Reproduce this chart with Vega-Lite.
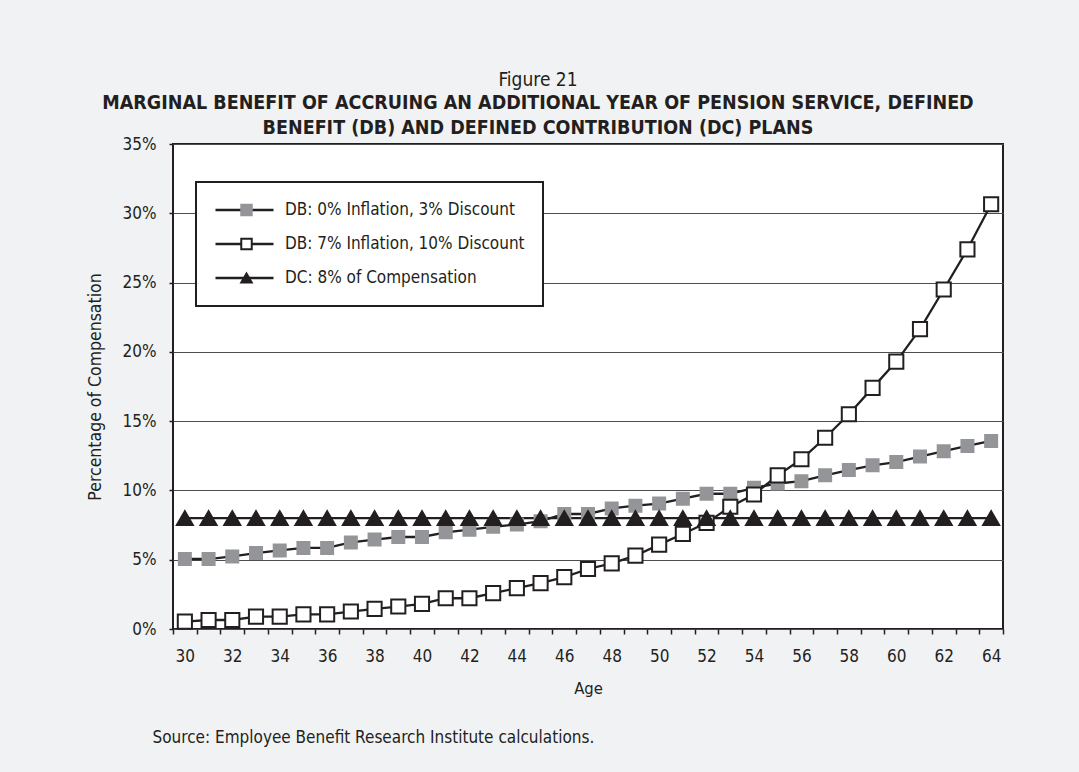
{
  "$schema": "https://vega.github.io/schema/vega-lite/v6.json",
  "width": 830,
  "height": 485,
  "autosize": {"type": "none"},
  "padding": {"left": 173, "top": 144, "right": 76, "bottom": 143},
  "background": "#f1f2f4",
  "config": {
    "font": "Liberation Sans Narrow, DejaVu Sans Condensed, Liberation Sans, sans-serif",
    "view": {"fill": "white", "stroke": "#231f20", "strokeWidth": 2},
    "legend": {"strokeWidth": 2}
  },
  "title": {
    "text": "Figure 21",
    "subtitle": ["MARGINAL BENEFIT OF ACCRUING AN ADDITIONAL YEAR OF PENSION SERVICE, DEFINED", "BENEFIT (DB) AND DEFINED CONTRIBUTION (DC) PLANS"],
    "anchor": "middle",
    "dx": -50,
    "fontSize": 19,
    "fontWeight": "normal",
    "color": "#231f20",
    "subtitleFontSize": 19.5,
    "subtitleFontWeight": "bold",
    "subtitleColor": "#231f20",
    "subtitleLineHeight": 25,
    "subtitlePadding": 4,
    "offset": -2
  },
  "data": {
    "values": [
      {"age": 30, "series": "DB: 0% Inflation, 3% Discount", "value": 5.05},
      {"age": 31, "series": "DB: 0% Inflation, 3% Discount", "value": 5.05},
      {"age": 32, "series": "DB: 0% Inflation, 3% Discount", "value": 5.24},
      {"age": 33, "series": "DB: 0% Inflation, 3% Discount", "value": 5.48},
      {"age": 34, "series": "DB: 0% Inflation, 3% Discount", "value": 5.67},
      {"age": 35, "series": "DB: 0% Inflation, 3% Discount", "value": 5.85},
      {"age": 36, "series": "DB: 0% Inflation, 3% Discount", "value": 5.85},
      {"age": 37, "series": "DB: 0% Inflation, 3% Discount", "value": 6.25},
      {"age": 38, "series": "DB: 0% Inflation, 3% Discount", "value": 6.45},
      {"age": 39, "series": "DB: 0% Inflation, 3% Discount", "value": 6.64},
      {"age": 40, "series": "DB: 0% Inflation, 3% Discount", "value": 6.64},
      {"age": 41, "series": "DB: 0% Inflation, 3% Discount", "value": 6.98},
      {"age": 42, "series": "DB: 0% Inflation, 3% Discount", "value": 7.17},
      {"age": 43, "series": "DB: 0% Inflation, 3% Discount", "value": 7.37},
      {"age": 44, "series": "DB: 0% Inflation, 3% Discount", "value": 7.54},
      {"age": 45, "series": "DB: 0% Inflation, 3% Discount", "value": 7.78},
      {"age": 46, "series": "DB: 0% Inflation, 3% Discount", "value": 8.3},
      {"age": 47, "series": "DB: 0% Inflation, 3% Discount", "value": 8.3},
      {"age": 48, "series": "DB: 0% Inflation, 3% Discount", "value": 8.7},
      {"age": 49, "series": "DB: 0% Inflation, 3% Discount", "value": 8.9},
      {"age": 50, "series": "DB: 0% Inflation, 3% Discount", "value": 9.05},
      {"age": 51, "series": "DB: 0% Inflation, 3% Discount", "value": 9.4},
      {"age": 52, "series": "DB: 0% Inflation, 3% Discount", "value": 9.76},
      {"age": 53, "series": "DB: 0% Inflation, 3% Discount", "value": 9.76},
      {"age": 54, "series": "DB: 0% Inflation, 3% Discount", "value": 10.19},
      {"age": 55, "series": "DB: 0% Inflation, 3% Discount", "value": 10.5},
      {"age": 56, "series": "DB: 0% Inflation, 3% Discount", "value": 10.67},
      {"age": 57, "series": "DB: 0% Inflation, 3% Discount", "value": 11.09},
      {"age": 58, "series": "DB: 0% Inflation, 3% Discount", "value": 11.47},
      {"age": 59, "series": "DB: 0% Inflation, 3% Discount", "value": 11.81},
      {"age": 60, "series": "DB: 0% Inflation, 3% Discount", "value": 12.05},
      {"age": 61, "series": "DB: 0% Inflation, 3% Discount", "value": 12.44},
      {"age": 62, "series": "DB: 0% Inflation, 3% Discount", "value": 12.83},
      {"age": 63, "series": "DB: 0% Inflation, 3% Discount", "value": 13.21},
      {"age": 64, "series": "DB: 0% Inflation, 3% Discount", "value": 13.57},
      {"age": 30, "series": "DB: 7% Inflation, 10% Discount", "value": 0.53},
      {"age": 31, "series": "DB: 7% Inflation, 10% Discount", "value": 0.65},
      {"age": 32, "series": "DB: 7% Inflation, 10% Discount", "value": 0.65},
      {"age": 33, "series": "DB: 7% Inflation, 10% Discount", "value": 0.89},
      {"age": 34, "series": "DB: 7% Inflation, 10% Discount", "value": 0.89},
      {"age": 35, "series": "DB: 7% Inflation, 10% Discount", "value": 1.06},
      {"age": 36, "series": "DB: 7% Inflation, 10% Discount", "value": 1.06},
      {"age": 37, "series": "DB: 7% Inflation, 10% Discount", "value": 1.26},
      {"age": 38, "series": "DB: 7% Inflation, 10% Discount", "value": 1.45},
      {"age": 39, "series": "DB: 7% Inflation, 10% Discount", "value": 1.62},
      {"age": 40, "series": "DB: 7% Inflation, 10% Discount", "value": 1.81},
      {"age": 41, "series": "DB: 7% Inflation, 10% Discount", "value": 2.22},
      {"age": 42, "series": "DB: 7% Inflation, 10% Discount", "value": 2.22},
      {"age": 43, "series": "DB: 7% Inflation, 10% Discount", "value": 2.59},
      {"age": 44, "series": "DB: 7% Inflation, 10% Discount", "value": 2.95},
      {"age": 45, "series": "DB: 7% Inflation, 10% Discount", "value": 3.31},
      {"age": 46, "series": "DB: 7% Inflation, 10% Discount", "value": 3.74},
      {"age": 47, "series": "DB: 7% Inflation, 10% Discount", "value": 4.33},
      {"age": 48, "series": "DB: 7% Inflation, 10% Discount", "value": 4.74},
      {"age": 49, "series": "DB: 7% Inflation, 10% Discount", "value": 5.29},
      {"age": 50, "series": "DB: 7% Inflation, 10% Discount", "value": 6.09},
      {"age": 51, "series": "DB: 7% Inflation, 10% Discount", "value": 6.86},
      {"age": 52, "series": "DB: 7% Inflation, 10% Discount", "value": 7.66},
      {"age": 53, "series": "DB: 7% Inflation, 10% Discount", "value": 8.82},
      {"age": 54, "series": "DB: 7% Inflation, 10% Discount", "value": 9.71},
      {"age": 55, "series": "DB: 7% Inflation, 10% Discount", "value": 11.09},
      {"age": 56, "series": "DB: 7% Inflation, 10% Discount", "value": 12.25},
      {"age": 57, "series": "DB: 7% Inflation, 10% Discount", "value": 13.8},
      {"age": 58, "series": "DB: 7% Inflation, 10% Discount", "value": 15.5},
      {"age": 59, "series": "DB: 7% Inflation, 10% Discount", "value": 17.4},
      {"age": 60, "series": "DB: 7% Inflation, 10% Discount", "value": 19.3},
      {"age": 61, "series": "DB: 7% Inflation, 10% Discount", "value": 21.64},
      {"age": 62, "series": "DB: 7% Inflation, 10% Discount", "value": 24.5},
      {"age": 63, "series": "DB: 7% Inflation, 10% Discount", "value": 27.4},
      {"age": 64, "series": "DB: 7% Inflation, 10% Discount", "value": 30.65},
      {"age": 30, "series": "DC: 8% of Compensation", "value": 8},
      {"age": 31, "series": "DC: 8% of Compensation", "value": 8},
      {"age": 32, "series": "DC: 8% of Compensation", "value": 8},
      {"age": 33, "series": "DC: 8% of Compensation", "value": 8},
      {"age": 34, "series": "DC: 8% of Compensation", "value": 8},
      {"age": 35, "series": "DC: 8% of Compensation", "value": 8},
      {"age": 36, "series": "DC: 8% of Compensation", "value": 8},
      {"age": 37, "series": "DC: 8% of Compensation", "value": 8},
      {"age": 38, "series": "DC: 8% of Compensation", "value": 8},
      {"age": 39, "series": "DC: 8% of Compensation", "value": 8},
      {"age": 40, "series": "DC: 8% of Compensation", "value": 8},
      {"age": 41, "series": "DC: 8% of Compensation", "value": 8},
      {"age": 42, "series": "DC: 8% of Compensation", "value": 8},
      {"age": 43, "series": "DC: 8% of Compensation", "value": 8},
      {"age": 44, "series": "DC: 8% of Compensation", "value": 8},
      {"age": 45, "series": "DC: 8% of Compensation", "value": 8},
      {"age": 46, "series": "DC: 8% of Compensation", "value": 8},
      {"age": 47, "series": "DC: 8% of Compensation", "value": 8},
      {"age": 48, "series": "DC: 8% of Compensation", "value": 8},
      {"age": 49, "series": "DC: 8% of Compensation", "value": 8},
      {"age": 50, "series": "DC: 8% of Compensation", "value": 8},
      {"age": 51, "series": "DC: 8% of Compensation", "value": 8},
      {"age": 52, "series": "DC: 8% of Compensation", "value": 8},
      {"age": 53, "series": "DC: 8% of Compensation", "value": 8},
      {"age": 54, "series": "DC: 8% of Compensation", "value": 8},
      {"age": 55, "series": "DC: 8% of Compensation", "value": 8},
      {"age": 56, "series": "DC: 8% of Compensation", "value": 8},
      {"age": 57, "series": "DC: 8% of Compensation", "value": 8},
      {"age": 58, "series": "DC: 8% of Compensation", "value": 8},
      {"age": 59, "series": "DC: 8% of Compensation", "value": 8},
      {"age": 60, "series": "DC: 8% of Compensation", "value": 8},
      {"age": 61, "series": "DC: 8% of Compensation", "value": 8},
      {"age": 62, "series": "DC: 8% of Compensation", "value": 8},
      {"age": 63, "series": "DC: 8% of Compensation", "value": 8},
      {"age": 64, "series": "DC: 8% of Compensation", "value": 8}
    ]
  },
  "layer": [
    {
      "mark": {"type": "line", "strokeWidth": 2.3},
      "encoding": {
        "x": {
          "field": "age",
          "type": "ordinal",
          "scale": {"type": "band", "paddingInner": 0, "paddingOuter": 0},
          "axis": {
            "orient": "bottom",
            "title": "Age",
            "labelExpr": "datum.value % 2 == 0 ? datum.label : ''",
            "labelAngle": 0,
            "labelOverlap": false,
            "tickBand": "extent",
            "tickSize": 5,
            "tickColor": "#231f20",
            "tickWidth": 1.5,
            "domain": false,
            "grid": false,
            "labelFontSize": 17,
            "labelColor": "#231f20",
            "labelPadding": 14,
            "titleFontSize": 16.5,
            "titleFontWeight": "normal",
            "titleColor": "#231f20",
            "titlePadding": 16
          }
        },
        "y": {
          "field": "value",
          "type": "quantitative",
          "scale": {"domain": [0, 35]},
          "axis": {
            "title": "Percentage of Compensation",
            "values": [0, 5, 10, 15, 20, 25, 30, 35],
            "labelExpr": "datum.value + '%'",
            "grid": true,
            "gridColor": "#4d4d4f",
            "gridWidth": 1,
            "domain": false,
            "tickSize": 4,
            "tickColor": "#231f20",
            "tickWidth": 1.5,
            "labelFontSize": 17,
            "labelColor": "#231f20",
            "labelPadding": 13,
            "titleFontSize": 17.5,
            "titleFontWeight": "normal",
            "titleColor": "#231f20",
            "titlePadding": 18
          }
        },
        "color": {
          "field": "series",
          "type": "nominal",
          "scale": {"range": ["#231f20", "#231f20", "#231f20"]},
          "legend": {
            "orient": "none",
            "legendX": 23,
            "legendY": 38,
            "title": null,
            "symbolType": "stroke",
            "symbolSize": 3364,
            "symbolStrokeWidth": 2.3,
            "clipHeight": 20,
            "labelFontSize": 17,
            "labelColor": "#231f20",
            "labelOffset": 10,
            "labelLimit": 400,
            "rowPadding": 14,
            "padding": 18,
            "strokeColor": "#231f20",
            "fillColor": "white",
            "zindex": 0
          }
        }
      }
    },
    {
      "mark": {"type": "point", "filled": true, "opacity": 1, "strokeWidth": 2},
      "encoding": {
        "x": {
          "field": "age",
          "type": "ordinal",
          "axis": {
            "orient": "bottom",
            "title": "Source: Employee Benefit Research Institute calculations.",
            "labels": false,
            "ticks": false,
            "domain": false,
            "grid": false,
            "titleAlign": "left",
            "titleAnchor": "start",
            "titleBaseline": "middle",
            "titleX": -21,
            "titleY": 108,
            "titleFontSize": 17,
            "titleFontWeight": "normal",
            "titleColor": "#231f20"
          }
        },
        "y": {"field": "value", "type": "quantitative"},
        "shape": {
          "field": "series",
          "type": "nominal",
          "scale": {"domain": ["DB: 0% Inflation, 3% Discount", "DB: 7% Inflation, 10% Discount", "DC: 8% of Compensation"], "range": ["square", "square", "triangle-up"]},
          "legend": {
            "orient": "none", "legendX": 65, "legendY": 56, "title": null,
            "symbolSize": 110, "symbolStrokeWidth": 2, "clipHeight": 20,
            "labelFontSize": 17, "labelOpacity": 0, "labelExpr": "' '", "labelOffset": 10, "labelLimit": 400,
            "rowPadding": 14, "padding": 0, "zindex": 1
          }
        },
        "fill": {
          "field": "series",
          "type": "nominal",
          "scale": {"domain": ["DB: 0% Inflation, 3% Discount", "DB: 7% Inflation, 10% Discount", "DC: 8% of Compensation"], "range": ["#939598", "#ffffff", "#231f20"]},
          "legend": {
            "orient": "none", "legendX": 65, "legendY": 56, "title": null,
            "symbolSize": 110, "symbolStrokeWidth": 2, "clipHeight": 20,
            "labelFontSize": 17, "labelOpacity": 0, "labelExpr": "' '", "labelOffset": 10, "labelLimit": 400,
            "rowPadding": 14, "padding": 0, "zindex": 1
          }
        },
        "stroke": {
          "field": "series",
          "type": "nominal",
          "scale": {"domain": ["DB: 0% Inflation, 3% Discount", "DB: 7% Inflation, 10% Discount", "DC: 8% of Compensation"], "range": ["#939598", "#231f20", "#231f20"]},
          "legend": {
            "orient": "none", "legendX": 65, "legendY": 56, "title": null,
            "symbolSize": 110, "symbolStrokeWidth": 2, "clipHeight": 20,
            "labelFontSize": 17, "labelOpacity": 0, "labelExpr": "' '", "labelOffset": 10, "labelLimit": 400,
            "rowPadding": 14, "padding": 0, "zindex": 1
          }
        },
        "size": {
          "field": "series",
          "type": "nominal",
          "scale": {"domain": ["DC: 8% of Compensation", "DB: 7% Inflation, 10% Discount", "DB: 0% Inflation, 3% Discount"], "range": [256, 144, 144]},
          "legend": null
        }
      }
    }
  ],
  "resolve": {"axis": {"x": "independent"}}
}
